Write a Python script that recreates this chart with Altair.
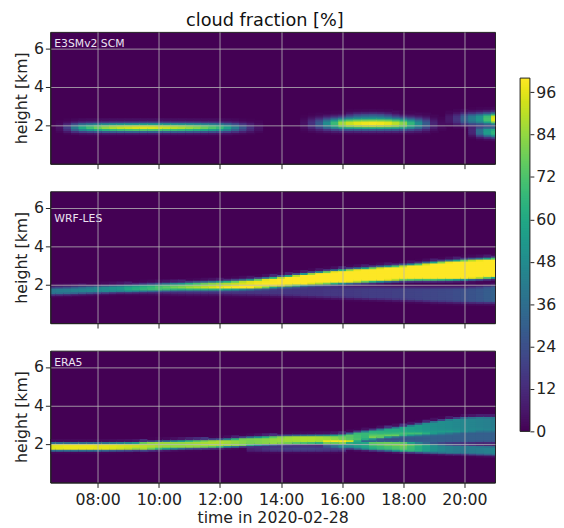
import altair as alt
import numpy as np
import pandas as pd

# ---------------- values ----------------
# time in hours of 2020-02-28 (read every 15 min), heights in km, cloud fraction in %
X_TICKS = [8, 10, 12, 14, 16, 18, 20]
Y_TICKS = [2, 4, 6]
CB_TICKS = [0, 12, 24, 36, 48, 60, 72, 84, 96]
PANEL_NAMES = ["E3SMv2 SCM", "WRF-LES", "ERA5"]

FULL_TIME = [6.5, 6.75, 7.0, 7.25, 7.5, 7.75, 8.0, 8.25, 8.5, 8.75, 9.0, 9.25, 9.5, 9.75, 10.0,
             10.25, 10.5, 10.75, 11.0, 11.25, 11.5, 11.75, 12.0, 12.25, 12.5, 12.75, 13.0, 13.25,
             13.5, 13.75, 14.0, 14.25, 14.5, 14.75, 15.0, 15.25, 15.5, 15.75, 16.0, 16.25, 16.5,
             16.75, 17.0, 17.25, 17.5, 17.75, 18.0, 18.25, 18.5, 18.75, 19.0, 19.25, 19.5, 19.75,
             20.0, 20.25, 20.5, 20.75, 21.0]

# ---- E3SMv2 SCM: cloud layers (time, centre height, peak %) ----
E3_L1_TIME = [6.75, 7.0, 7.25, 7.5, 7.75, 8.0, 8.25, 8.5, 8.75, 9.0, 9.25, 9.5, 9.75, 10.0,
              10.25, 10.5, 10.75, 11.0, 11.25, 11.5, 11.75, 12.0, 12.25, 12.5, 12.75, 13.0, 13.25]
E3_L1_CENTER = 1.88
E3_L1_PEAK = [4, 18, 40, 60, 70, 78, 84, 88, 91, 93, 95, 96, 95, 94,
              92, 90, 88, 85, 82, 78, 73, 68, 57, 42, 27, 14, 5]

E3_L2_TIME = [14.75, 15.0, 15.25, 15.5, 15.75, 16.0, 16.25, 16.5, 16.75, 17.0, 17.25, 17.5,
              17.75, 18.0, 18.25, 18.5, 18.75, 19.0, 19.25]
E3_L2_CENTER = [2.05, 2.06, 2.065, 2.07, 2.075, 2.08, 2.08, 2.08, 2.08, 2.08, 2.08, 2.08,
                2.075, 2.07, 2.065, 2.06, 2.055, 2.05, 2.05]
E3_L2_PEAK = [4, 14, 28, 48, 68, 86, 92, 96, 98, 99, 98, 96, 90, 82, 66, 48, 28, 10, 3]

E3_L3_TIME = [16.25, 16.5, 16.75, 17.0, 17.25, 17.5, 17.75]
E3_L3_CENTER = 2.5
E3_L3_PEAK = [8, 15, 18, 20, 18, 12, 5]

E3_L4_TIME = [19.5, 19.75, 20.0, 20.25, 20.5, 20.75, 21.0]
E3_L4_CENTER = [2.3, 2.31, 2.32, 2.32, 2.33, 2.33, 2.33]
E3_L4_PEAK = [6, 15, 30, 42, 52, 70, 95]

E3_L5_TIME = [20.25, 20.5, 20.75, 21.0]
E3_L5_CENTER = [1.68, 1.66, 1.64, 1.62]
E3_L5_PEAK = [10, 35, 55, 65]

# ---- WRF-LES ----
WRF_MAIN_TIME = FULL_TIME
WRF_MAIN_CENTER = [1.66, 1.67, 1.68, 1.695, 1.71, 1.725, 1.74, 1.755, 1.77, 1.785, 1.80, 1.815,
                   1.83, 1.845, 1.86, 1.875, 1.89, 1.90, 1.91, 1.92, 1.93, 1.94, 1.95, 1.965,
                   1.98, 2.0, 2.02, 2.05, 2.08, 2.115, 2.15, 2.185, 2.22, 2.255, 2.29, 2.32,
                   2.35, 2.38, 2.41, 2.435, 2.46, 2.485, 2.51, 2.535, 2.56, 2.585, 2.61, 2.63,
                   2.65, 2.67, 2.69, 2.71, 2.73, 2.75, 2.77, 2.79, 2.81, 2.835, 2.86]
WRF_MAIN_CORE = [0.08, 0.08, 0.08, 0.08, 0.08, 0.08, 0.08, 0.08, 0.08, 0.08, 0.08, 0.08,
                 0.08, 0.08, 0.08, 0.08, 0.08, 0.08, 0.09, 0.095, 0.10, 0.105, 0.11, 0.115,
                 0.12, 0.125, 0.13, 0.14, 0.15, 0.155, 0.16, 0.175, 0.19, 0.20, 0.21, 0.225,
                 0.24, 0.25, 0.26, 0.265, 0.27, 0.275, 0.28, 0.285, 0.29, 0.295, 0.30, 0.315,
                 0.33, 0.35, 0.37, 0.385, 0.40, 0.41, 0.42, 0.42, 0.42, 0.42, 0.42]
WRF_MAIN_PEAK = [40, 41, 42, 43, 44, 45, 46, 48, 50, 52, 54, 56, 58, 60, 63, 65, 68, 70, 73,
                 75, 78, 81, 84, 87, 90, 93, 95, 97, 98, 99, 100, 100, 100, 100, 100, 100, 100,
                 100, 100, 100, 100, 100, 100, 100, 100, 100, 100, 100, 100, 100, 100, 100, 100,
                 100, 100, 100, 100, 100, 100]

WRF_LOW_TIME = FULL_TIME[10:]
WRF_LOW_CENTER = [1.72, 1.72, 1.72, 1.72, 1.72, 1.72, 1.72, 1.72, 1.72, 1.72, 1.72, 1.72, 1.72,
                  1.715, 1.71, 1.705, 1.70, 1.695, 1.69, 1.685, 1.68, 1.67, 1.66, 1.65, 1.64,
                  1.63, 1.62, 1.61, 1.60, 1.59, 1.58, 1.57, 1.56, 1.55, 1.54, 1.53, 1.52, 1.51,
                  1.50, 1.49, 1.48, 1.475, 1.47, 1.465, 1.46, 1.465, 1.47, 1.485, 1.50]
WRF_LOW_CORE = [0.05, 0.055, 0.06, 0.07, 0.08, 0.085, 0.09, 0.095, 0.10, 0.10, 0.10, 0.10, 0.10,
                0.105, 0.11, 0.115, 0.12, 0.125, 0.13, 0.135, 0.14, 0.145, 0.15, 0.155, 0.16,
                0.165, 0.17, 0.175, 0.18, 0.185, 0.19, 0.195, 0.20, 0.205, 0.21, 0.215, 0.22,
                0.225, 0.23, 0.24, 0.25, 0.255, 0.26, 0.265, 0.27, 0.28, 0.29, 0.305, 0.32]
WRF_LOW_PEAK = [6, 7, 8, 9, 10, 11, 12, 12.5, 13, 13.5, 14, 14.5, 15, 15, 15, 15, 15, 15, 15,
                15, 15, 15, 15, 15, 15, 15, 16, 16, 16, 16.5, 17, 17.5, 18, 18, 18, 18.5, 19,
                19.5, 20, 20.5, 21, 21.5, 22, 23, 24, 25.5, 27, 29, 31]

# ---- ERA5 ----
ERA_A_TIME = FULL_TIME
ERA_A_CENTER = [1.85, 1.85, 1.85, 1.85, 1.85, 1.85, 1.85, 1.855, 1.86, 1.865, 1.87, 1.88, 1.89,
                1.905, 1.92, 1.935, 1.95, 1.965, 1.98, 1.99, 2.0, 2.01, 2.02, 2.045, 2.07, 2.10,
                2.13, 2.15, 2.17, 2.185, 2.2, 2.21, 2.22, 2.225, 2.23, 2.235, 2.24, 2.255, 2.27,
                2.32, 2.38, 2.43, 2.48, 2.53, 2.58, 2.625, 2.67, 2.715, 2.76, 2.805, 2.85, 2.89,
                2.93, 2.96, 2.99, 3.005, 3.02, 3.02, 3.02]
ERA_A_CORE = [0.10, 0.10, 0.10, 0.10, 0.10, 0.10, 0.10, 0.10, 0.10, 0.10, 0.10, 0.10,
              0.12, 0.12, 0.12, 0.12, 0.12, 0.12, 0.12, 0.12, 0.12, 0.12, 0.12, 0.12,
              0.13, 0.13, 0.13, 0.13, 0.13, 0.13, 0.13, 0.13, 0.13, 0.13, 0.13, 0.13, 0.13, 0.13,
              0.14, 0.145, 0.15, 0.15, 0.15, 0.15, 0.15, 0.155, 0.16, 0.18, 0.20, 0.22, 0.24,
              0.26, 0.28, 0.29, 0.30, 0.30, 0.30, 0.30, 0.30]
ERA_A_PEAK = [95, 96, 97, 97, 97, 97, 96, 96, 95, 94, 93, 92, 90, 88, 86, 85, 84, 84, 85, 86,
              87, 88, 88, 86, 84, 82, 80, 81, 82, 84, 85, 86, 87, 88, 88, 87, 85, 82, 78, 74,
              70, 67, 65, 63, 62, 61, 60, 57, 55, 52, 50, 49, 48, 47, 46, 45, 44, 43, 42]

ERA_B_TIME = FULL_TIME[36:]
ERA_B_CENTER = [2.0, 1.985, 1.97, 1.955, 1.94, 1.92, 1.90, 1.885, 1.87, 1.855, 1.84, 1.82, 1.80,
                1.78, 1.76, 1.74, 1.72, 1.71, 1.70, 1.685, 1.67, 1.66, 1.65]
ERA_B_CORE = [0.08, 0.09, 0.10, 0.11, 0.12, 0.125, 0.13, 0.135, 0.14, 0.145, 0.15, 0.15, 0.15,
              0.15, 0.15, 0.15, 0.15, 0.15, 0.15, 0.15, 0.15, 0.15, 0.15]
ERA_B_PEAK = [20, 30, 40, 48, 55, 59, 62, 65, 68, 71, 74, 68, 62, 56, 50, 46, 43, 41, 40, 41,
              42, 43, 45]

ERA_C_TIME = FULL_TIME[42:]
ERA_C_CENTER = [2.2, 2.21, 2.22, 2.235, 2.25, 2.265, 2.28, 2.29, 2.30, 2.31, 2.32, 2.325, 2.33,
                2.34, 2.35, 2.35, 2.35]
ERA_C_PEAK = [15, 17, 20, 22, 25, 27, 28, 29, 30, 30, 30, 30, 30, 30, 30, 30, 30]

ERA_D_TIME = FULL_TIME[26:39]
ERA_D_CENTER = 1.75
ERA_D_PEAK = [10, 12, 15, 17, 18, 19, 20, 20, 20, 19, 18, 16, 15]

# ---------------- building the gridded fields ----------------
T_MIN, T_MAX = 6.45, 21.0
Z_MAX = 6.85
DZ = 0.1
DT = 0.25
Z_CENTERS = np.arange(DZ / 2, 7.0, DZ)
OVER_T = 0.04   # overlap so neighbouring cells leave no anti-aliasing seams
OVER_Z = 0.06


def field(layers):
    # each layer: (times, centre, core half-depth, peak, edge width)
    cols = {}
    for (T, C, H, P, S) in layers:
        n = len(T)
        C = np.broadcast_to(np.asarray(C, dtype=float), (n,))
        H = np.broadcast_to(np.asarray(H, dtype=float), (n,))
        for t, c, h, p in zip(T, C, H, P):
            dz = np.maximum(0.0, np.abs(Z_CENTERS - c) - h)
            v = p * np.exp(-(dz / S) ** 2)
            cols[t] = cols.get(t, np.zeros_like(Z_CENTERS)) + v
    rows = []
    for t, v in sorted(cols.items()):
        v = np.minimum(v, 100.0)
        for z, val in zip(Z_CENTERS, v):
            if val > 0.5:
                rows.append(dict(t0=t - DT / 2, t1=t + DT / 2 + OVER_T,
                                 z0=z - DZ / 2, z1=z + DZ / 2 + OVER_Z, v=float(val)))
    return pd.DataFrame(rows)


FIELDS = [
    field([
        (E3_L1_TIME, E3_L1_CENTER, 0.03, E3_L1_PEAK, 0.19),
        (E3_L2_TIME, E3_L2_CENTER, 0.05, E3_L2_PEAK, 0.25),
        (E3_L3_TIME, E3_L3_CENTER, 0.0, E3_L3_PEAK, 0.15),
        (E3_L4_TIME, E3_L4_CENTER, 0.08, E3_L4_PEAK, 0.22),
        (E3_L5_TIME, E3_L5_CENTER, 0.08, E3_L5_PEAK, 0.18),
    ]),
    field([
        (WRF_MAIN_TIME, WRF_MAIN_CENTER, WRF_MAIN_CORE, WRF_MAIN_PEAK, 0.12),
        (WRF_LOW_TIME, WRF_LOW_CENTER, WRF_LOW_CORE, WRF_LOW_PEAK, 0.15),
    ]),
    field([
        (ERA_A_TIME, ERA_A_CENTER, ERA_A_CORE, ERA_A_PEAK, 0.10),
        (ERA_B_TIME, ERA_B_CENTER, ERA_B_CORE, ERA_B_PEAK, 0.10),
        (ERA_C_TIME, ERA_C_CENTER, 0.15, ERA_C_PEAK, 0.15),
        (ERA_D_TIME, ERA_D_CENTER, 0.05, ERA_D_PEAK, 0.10),
    ]),
]

FONT = "DejaVu Sans"
PW, PH = 452, 134
LABEL_Y = [12, 28, 13]

color_scale = alt.Scale(scheme="viridis", domain=[0, 100])


def panel(i):
    df = FIELDS[i]
    last = i == 2
    xaxis = alt.Axis(values=X_TICKS, labels=last, title="time in 2020-02-28" if last else None,
                     labelExpr="(datum.value < 10 ? '0' : '') + datum.value + ':00'",
                     grid=True, zindex=1, tickSize=5, labelPadding=4, titlePadding=3)
    yaxis = alt.Axis(values=Y_TICKS, title="height [km]", grid=True, zindex=1,
                     tickSize=5, labelPadding=2, titlePadding=4)
    heat = alt.Chart(df).mark_rect(clip=True, strokeWidth=0).encode(
        x=alt.X("t0:Q", scale=alt.Scale(domain=[T_MIN, T_MAX], nice=False, zero=False), axis=xaxis),
        x2="t1:Q",
        y=alt.Y("z0:Q", scale=alt.Scale(domain=[0, Z_MAX], nice=False), axis=yaxis),
        y2="z1:Q",
        color=alt.Color("v:Q", scale=color_scale, legend=None),
    )
    label = alt.Chart(pd.DataFrame({"name": [PANEL_NAMES[i]]})).mark_text(
        align="left", baseline="middle", font=FONT, fontSize=11, color="#ece4f2"
    ).encode(text="name:N", x=alt.value(4), y=alt.value(LABEL_Y[i]))
    return alt.layer(heat, label).properties(
        width=PW, height=PH, view=alt.ViewBackground(fill="#440154", stroke="#222222", strokeWidth=1)
    )


panels = alt.vconcat(panel(0), panel(1), panel(2), spacing=21)

# colour bar
CB_H = 454
cb_df = pd.DataFrame({"v0": np.arange(0, 100, 0.5)})
cb_df["v1"] = (cb_df["v0"] + 1.0).clip(upper=100)
cb_df["v"] = cb_df["v0"] + 0.25
cb_scale = alt.Scale(domain=[-13.35, 113.07], nice=False, zero=False)
cb_axis = alt.Axis(values=CB_TICKS, orient="right", domain=False, grid=False, tickSize=4,
                   labelPadding=2, title=None)
cb_rect = alt.Chart(cb_df).mark_rect(strokeWidth=0).encode(
    y=alt.Y("v0:Q", scale=cb_scale, axis=cb_axis),
    y2="v1:Q",
    color=alt.Color("v:Q", scale=color_scale, legend=None),
)
cb_frame = alt.Chart(pd.DataFrame({"lo": [0], "hi": [100]})).mark_rect(
    fillOpacity=0, stroke="#222222", strokeWidth=1
).encode(y=alt.Y("lo:Q", scale=cb_scale), y2="hi:Q")
colorbar = alt.layer(cb_rect, cb_frame).properties(
    width=10, height=CB_H, view=alt.ViewBackground(stroke=None)
)

chart = alt.hconcat(panels, colorbar, spacing=23.5).properties(
    title=alt.TitleParams("cloud fraction [%]", fontSize=18, font=FONT, fontWeight="normal",
                          anchor="middle", dx=-20, offset=1, color="#111111"),
    padding={"left": 5, "top": 0, "right": 0, "bottom": 0},
).configure_axis(
    labelFont=FONT, titleFont=FONT, labelFontSize=16, titleFontSize=16, titleFontWeight="normal",
    labelColor="#222222", titleColor="#222222", tickColor="#222222", domainColor="#222222",
    gridColor="#b8b8b8", gridOpacity=0.8, gridWidth=1,
).configure_view(strokeWidth=1)

chart.save("out.html", embed_options={"renderer": "svg", "actions": False})
